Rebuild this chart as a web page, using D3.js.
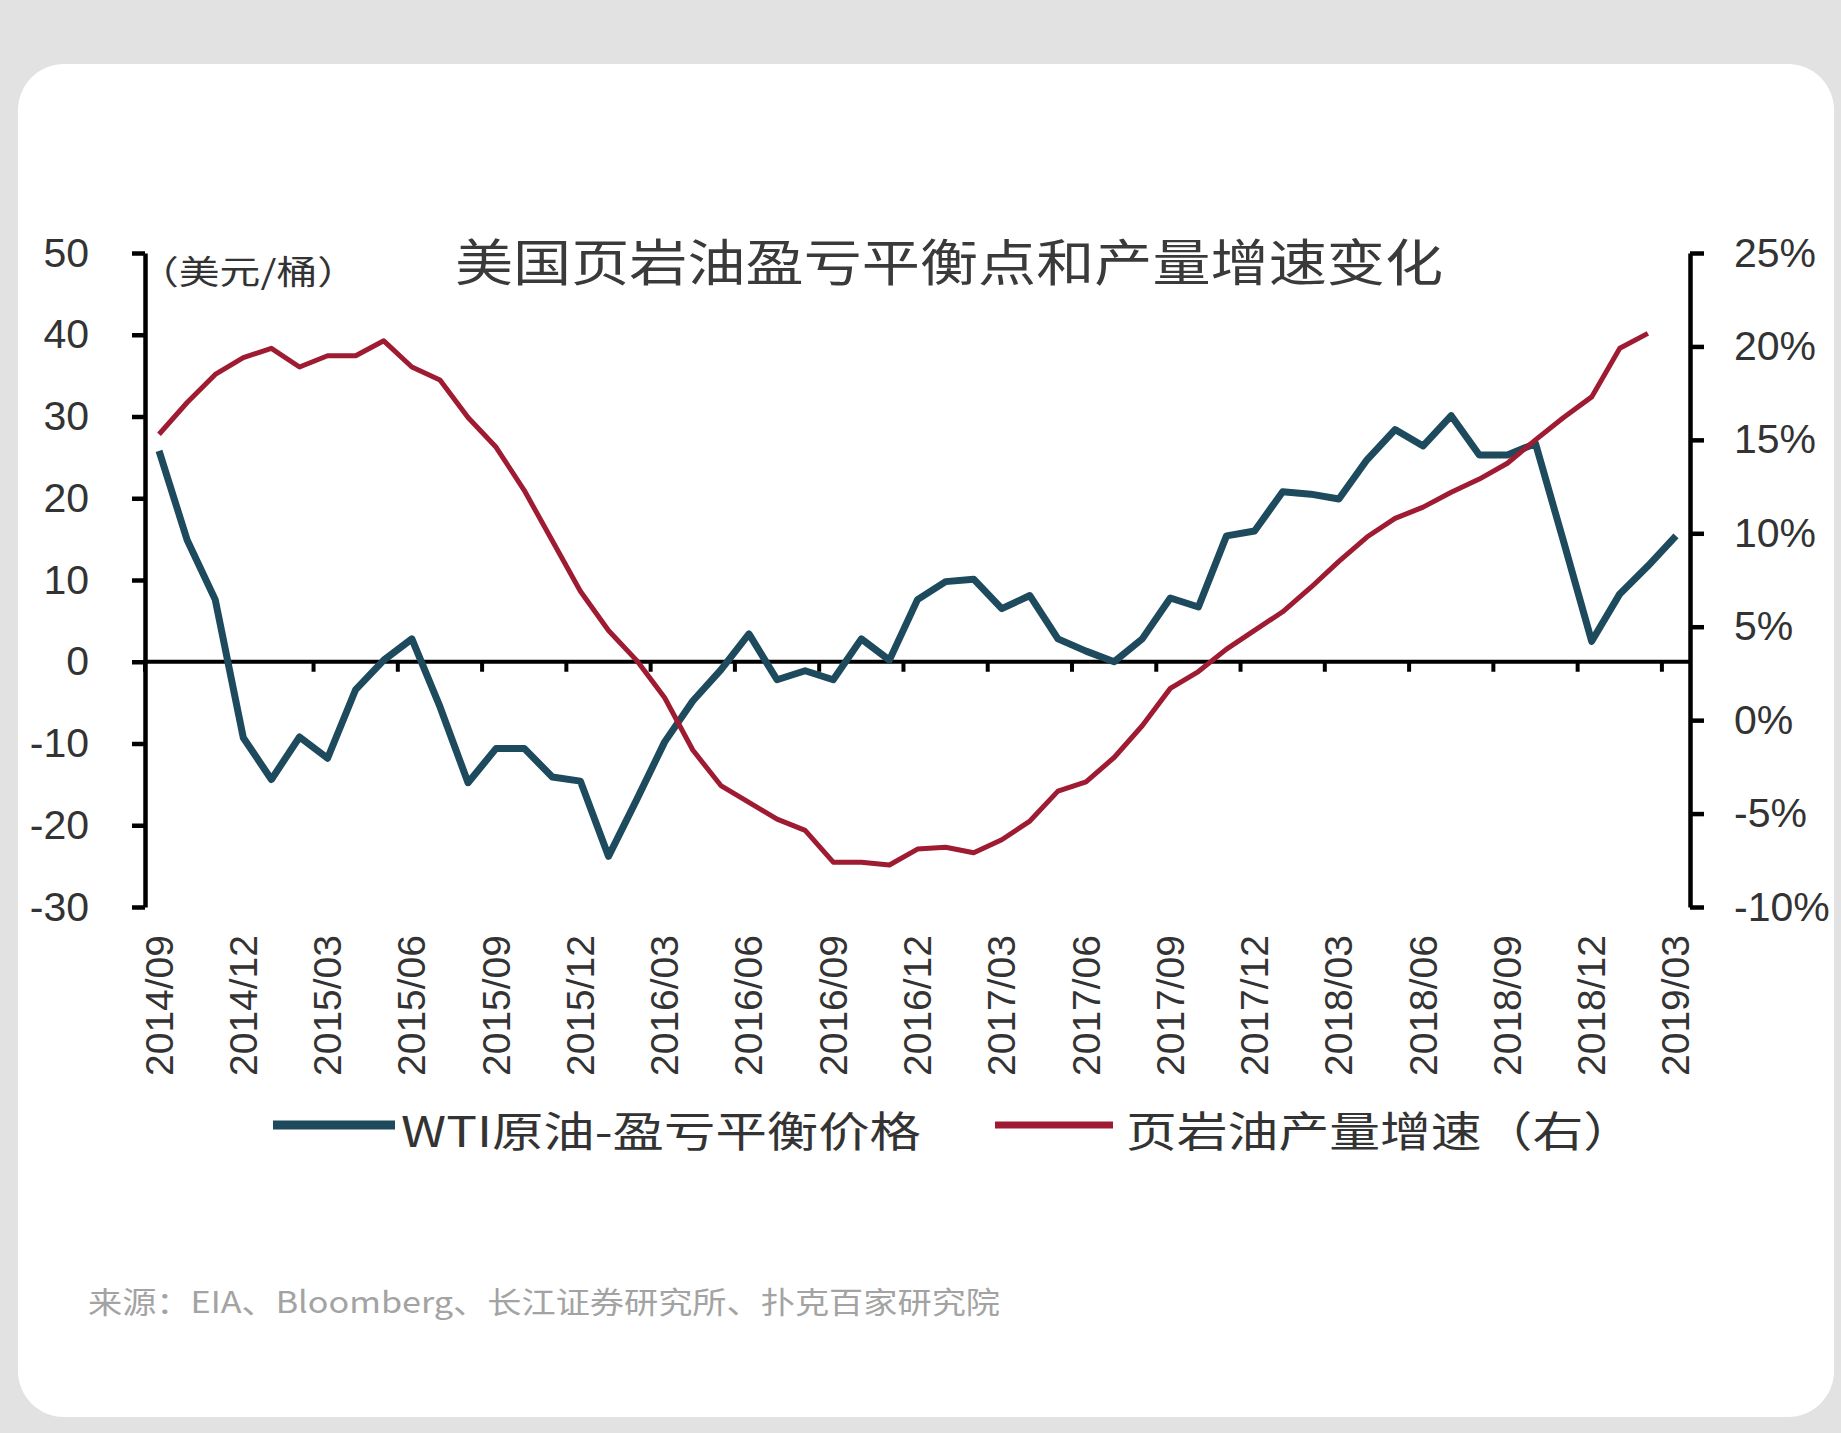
<!DOCTYPE html>
<html>
<head>
<meta charset="utf-8">
<script src="https://cdn.jsdelivr.net/npm/d3@7/dist/d3.min.js"></script>
<style>
  body { margin: 0; background: #e2e2e2; }
  svg { display: block; }
</style>
</head>
<body>
<svg id="chart"></svg>
<script>
// monthly categories, 2014/09 .. 2019/03
var months = [
  "2014/09","2014/10","2014/11","2014/12","2015/01","2015/02","2015/03","2015/04","2015/05","2015/06",
  "2015/07","2015/08","2015/09","2015/10","2015/11","2015/12","2016/01","2016/02","2016/03","2016/04",
  "2016/05","2016/06","2016/07","2016/08","2016/09","2016/10","2016/11","2016/12","2017/01","2017/02",
  "2017/03","2017/04","2017/05","2017/06","2017/07","2017/08","2017/09","2017/10","2017/11","2017/12",
  "2018/01","2018/02","2018/03","2018/04","2018/05","2018/06","2018/07","2018/08","2018/09","2018/10",
  "2018/11","2018/12","2019/01","2019/02","2019/03"
];

// WTI原油-盈亏平衡价格 (美元/桶, left axis)
var wti = [
  25.8, 14.9, 7.6, -9.3, -14.4, -9.2, -11.8, -3.4, 0.2, 2.8,
  -5.5, -14.8, -10.6, -10.6, -14.1, -14.6, -23.8, -16.9, -9.8, -4.8,
  -1.0, 3.4, -2.2, -1.1, -2.2, 2.8, 0.2, 7.6, 9.8, 10.1,
  6.5, 8.1, 2.8, 1.3, 0.0, 2.8, 7.8, 6.7, 15.4, 16.0,
  20.8, 20.5, 19.9, 24.7, 28.4, 26.4, 30.1, 25.3, 25.3, 26.7,
  14.7, 2.5, 8.3, 11.7, 15.4
];

// 页岩油产量增速 (%, right axis)
var shale = [
  15.3, 17.0, 18.5, 19.4, 19.9, 18.9, 19.5, 19.5, 20.3, 18.9,
  18.2, 16.2, 14.6, 12.3, 9.6, 6.9, 4.8, 3.2, 1.2, -1.6,
  -3.5, -4.4, -5.3, -5.9, -7.6, -7.6, -7.75, -6.9, -6.8, -7.1,
  -6.4, -5.4, -3.8, -3.3, -2.0, -0.3, 1.7, 2.6, 3.8, 4.8,
  5.8, 7.1, 8.5, 9.8, 10.8, 11.4, 12.2, 12.9, 13.75, 15.0,
  16.2, 17.3, 19.9, 20.7, null
];

var leftTicks = [50, 40, 30, 20, 10, 0, -10, -20, -30];
var rightTicks = [25, 20, 15, 10, 5, 0, -5, -10];
var labelMonths = months.filter(function(d, i) { return i % 3 === 0; });

var title = "美国页岩油盈亏平衡点和产量增速变化";
var unitLabel = "（美元/桶）";
var seriesNames = ["WTI原油-盈亏平衡价格", "页岩油产量增速（右）"];
var source = "来源：EIA、Bloomberg、长江证券研究所、扑克百家研究院";

(function() {
  var W = 1841, H = 1433;
  var plotL = 145, plotR = 1690, plotT = 253, plotB = 907;
  var blue = "#1d4a5c", red = "#9e1b32", ink = "#333333";
  var latin = "'Liberation Sans', Arial, sans-serif";
  var cjk = "'Noto Sans CJK SC', 'Liberation Sans', sans-serif";

  var svg = d3.select("#chart").attr("width", W).attr("height", H);

  svg.append("rect").attr("width", W).attr("height", H).attr("fill", "#e2e2e2");
  svg.append("rect")
    .attr("x", 18).attr("y", 64)
    .attr("width", 1816).attr("height", 1353)
    .attr("rx", 46)
    .attr("fill", "#ffffff");

  var x = d3.scaleBand().domain(months).range([plotL, plotR]);
  var bw = x.bandwidth();
  var yL = d3.scaleLinear().domain([-30, 50]).range([plotB, plotT]);
  var yR = d3.scaleLinear().domain([-10, 25]).range([plotB, plotT]);

  // left axis
  var gL = svg.append("g")
    .attr("transform", "translate(" + plotL + ",0)")
    .call(d3.axisLeft(yL).tickValues(leftTicks).tickSize(13).tickSizeOuter(0).tickPadding(43)
      .tickFormat(function(d) { return String(d); }));

  // right axis
  var gR = svg.append("g")
    .attr("transform", "translate(" + plotR + ",0)")
    .call(d3.axisRight(yR).tickValues(rightTicks).tickSize(14).tickSizeOuter(0).tickPadding(30)
      .tickFormat(function(d) { return d + "%"; }));

  [gL, gR].forEach(function(g) {
    g.select(".domain").attr("stroke", "#000").attr("stroke-width", 4.5);
    g.selectAll(".tick line").attr("stroke", "#000").attr("stroke-width", 4.5);
    g.selectAll(".tick text")
      .attr("fill", ink)
      .style("font-family", latin)
      .style("font-size", "41px");
  });

  // category axis on the zero line
  var y0 = yL(0);
  svg.append("line")
    .attr("x1", plotL).attr("x2", plotR)
    .attr("y1", y0).attr("y2", y0)
    .attr("stroke", "#000").attr("stroke-width", 4);

  svg.selectAll(".xtick")
    .data(labelMonths)
    .enter()
    .append("line")
    .attr("class", "xtick")
    .attr("x1", function(d) { return x(d); })
    .attr("x2", function(d) { return x(d); })
    .attr("y1", y0).attr("y2", y0 + 10)
    .attr("stroke", "#000").attr("stroke-width", 4);

  svg.selectAll(".xlabel")
    .data(labelMonths)
    .enter()
    .append("text")
    .attr("class", "xlabel")
    .attr("transform", function(d) { return "translate(" + (x(d) + bw / 2) + ",935) rotate(-90)"; })
    .attr("text-anchor", "end")
    .attr("dominant-baseline", "central")
    .attr("fill", ink)
    .style("font-family", latin)
    .style("font-size", "39px")
    .text(function(d) { return d; });

  // series lines
  var lineL = d3.line()
    .defined(function(d) { return d != null; })
    .x(function(d, i) { return x(months[i]) + bw / 2; })
    .y(function(d) { return yL(d); });

  var lineR = d3.line()
    .defined(function(d) { return d != null; })
    .x(function(d, i) { return x(months[i]) + bw / 2; })
    .y(function(d) { return yR(d); });

  svg.append("path")
    .datum(wti)
    .attr("d", lineL)
    .attr("fill", "none")
    .attr("stroke", blue)
    .attr("stroke-width", 7)
    .attr("stroke-linejoin", "round");

  svg.append("path")
    .datum(shale)
    .attr("d", lineR)
    .attr("fill", "none")
    .attr("stroke", red)
    .attr("stroke-width", 5)
    .attr("stroke-linejoin", "round");

  // title and unit
  svg.append("text")
    .attr("x", 455).attr("y", 259)
    .attr("dominant-baseline", "central")
    .attr("textLength", 988).attr("lengthAdjust", "spacingAndGlyphs")
    .attr("fill", "#3a3a3a")
    .style("font-family", cjk)
    .style("font-size", "50px")
    .text(title);

  svg.append("text")
    .attr("x", 138).attr("y", 270)
    .attr("dominant-baseline", "central")
    .attr("textLength", 220).attr("lengthAdjust", "spacingAndGlyphs")
    .attr("fill", ink)
    .style("font-family", cjk)
    .style("font-size", "33px")
    .text(unitLabel);

  // legend
  var legend = [
    { name: seriesNames[0], color: blue, x1: 273, x2: 395, w: 9, tx: 401, len: 520 },
    { name: seriesNames[1], color: red, x1: 995, x2: 1113, w: 7, tx: 1126, len: 508 }
  ];

  legend.forEach(function(d) {
    svg.append("line")
      .attr("x1", d.x1).attr("x2", d.x2)
      .attr("y1", 1125).attr("y2", 1125)
      .attr("stroke", d.color).attr("stroke-width", d.w);
    svg.append("text")
      .attr("x", d.tx).attr("y", 1128)
      .attr("dominant-baseline", "central")
      .attr("textLength", d.len).attr("lengthAdjust", "spacingAndGlyphs")
      .attr("fill", ink)
      .style("font-family", cjk)
      .style("font-size", "42px")
      .text(d.name);
  });

  // source note
  svg.append("text")
    .attr("x", 88).attr("y", 1300)
    .attr("dominant-baseline", "central")
    .attr("textLength", 912).attr("lengthAdjust", "spacingAndGlyphs")
    .attr("fill", "#a3a3a3")
    .style("font-family", cjk)
    .style("font-size", "30px")
    .text(source);
})();
</script>
</body>
</html>
